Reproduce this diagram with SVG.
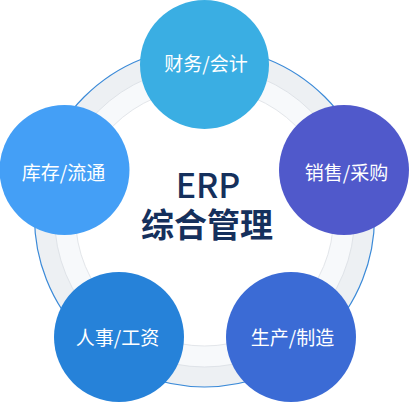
<svg xmlns="http://www.w3.org/2000/svg" width="409" height="402" viewBox="0 0 409 402">
<style>
.lbl{font-family:"Noto Sans CJK SC","Noto Sans",sans-serif;font-size:19px;fill:#ffffff;text-anchor:middle;font-weight:normal}
.ctr{font-family:"Noto Sans CJK SC","Noto Sans",sans-serif;fill:#15305c;text-anchor:middle}
</style>
<rect width="409" height="402" fill="#ffffff"/>
<g id="ring">
<circle cx="204.5" cy="217" r="170" fill="#edf0f3" stroke="#3b8ad8" stroke-width="1.2"/>
<circle cx="204.5" cy="217" r="150" fill="#f7f9fb" stroke="#dfe3e8" stroke-width="1"/>
<circle cx="204.5" cy="217" r="129" fill="#ffffff" stroke="#e3e6ea" stroke-width="1"/>
</g>
<g id="center">
<text class="ctr" x="208" y="198" font-size="34" font-weight="500">ERP</text>
<text class="ctr" x="207" y="236.5" font-size="33" font-weight="bold">综合管理</text>
</g>
<g id="connectors"></g>
<g id="finance">
<circle cx="204.5" cy="64.5" r="64.5" fill="#3aaee3"/>
<text class="lbl" x="206" y="70.5">财务/会计</text>
</g>
<g id="inventory">
<circle cx="64.5" cy="170" r="65" fill="#449ff6"/>
<text class="lbl" x="63.5" y="180">库存/流通</text>
</g>
<g id="sales">
<circle cx="344" cy="170" r="65" fill="#5059cb"/>
<text class="lbl" x="346.5" y="180">销售/采购</text>
</g>
<g id="hr">
<circle cx="119" cy="337" r="65" fill="#2682d9"/>
<text class="lbl" x="117.5" y="345">人事/工资</text>
</g>
<g id="production">
<circle cx="291" cy="337" r="65" fill="#3b6bd5"/>
<text class="lbl" x="292.5" y="345">生产/制造</text>
</g>
</svg>
